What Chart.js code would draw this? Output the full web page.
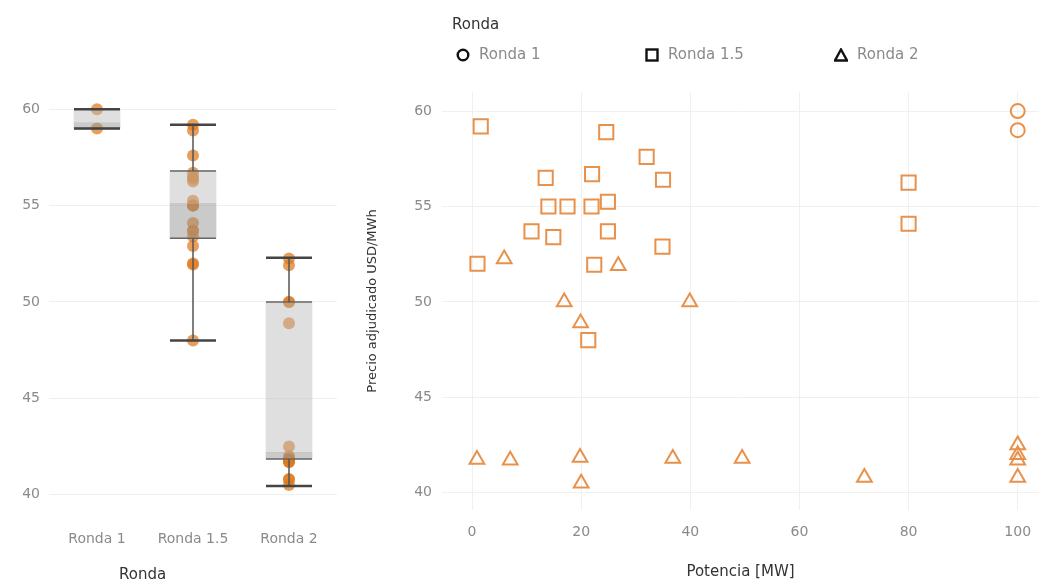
<!DOCTYPE html>
<html>
<head>
<meta charset="utf-8">
<script src="https://cdn.jsdelivr.net/npm/chart.js@4.4.1/dist/chart.umd.min.js"></script>
<style>
    body { margin: 0; background: #fff; font-family: "DejaVu Sans", sans-serif; }
    .wrap { position: relative; width: 1039px; height: 582px; overflow: hidden; }
    #boxChart { position: absolute; left: 0; top: 0; }
    #scatterChart { position: absolute; left: 340px; top: 0; }
    .txt { position: absolute; white-space: nowrap; line-height: 1; }
    .legend-title { left: 452px; top: 17px; font-size: 15px; color: #333; }
    .legend-item { top: 47px; font-size: 15px; color: #8a8a8a; display: flex; align-items: center; }
    .legend-item svg { margin-right: 9px; }
    .box-title { left: 119px; top: 567px; font-size: 15px; color: #333; }
</style>
</head>
<body>
<div class="wrap">
    <canvas id="boxChart" width="340" height="582"></canvas>
    <canvas id="scatterChart" width="699" height="582"></canvas>

    <div class="txt legend-title">Ronda</div>
    <div class="txt legend-item" style="left:456px">
        <svg width="14" height="14"><circle cx="7" cy="7" r="5.3" fill="none" stroke="#111" stroke-width="2.4"/></svg>Ronda 1
    </div>
    <div class="txt legend-item" style="left:645px">
        <svg width="14" height="14"><rect x="1.5" y="1.5" width="11" height="11" fill="none" stroke="#111" stroke-width="2.4"/></svg>Ronda 1.5
    </div>
    <div class="txt legend-item" style="left:834px">
        <svg width="14" height="14"><polygon points="7,1.5 13,12.5 1,12.5" fill="none" stroke="#111" stroke-width="2.4" stroke-linejoin="miter"/></svg>Ronda 2
    </div>
    <div class="txt box-title">Ronda</div>
</div>

<script>
// data
const rondas = ['Ronda 1', 'Ronda 1.5', 'Ronda 2'];

const r1Potencia = [100, 100];
const r1Precio = [60, 59];

const r15Potencia = [1.6, 24.6, 32, 13.5, 22, 35, 14, 17.5, 21.9, 24.9, 10.9, 14.9, 24.9, 34.9, 1, 22.4, 21.3, 80, 80];
const r15Precio = [59.2, 58.9, 57.6, 56.5, 56.7, 56.4, 55.0, 55.0, 55.0, 55.25, 53.7, 53.4, 53.7, 52.9, 52.0, 51.95, 48.0, 56.25, 54.1];

const r2Potencia = [5.9, 26.8, 16.9, 19.9, 39.9, 0.9, 7, 19.8, 20, 36.8, 49.5, 71.9, 100, 100, 100, 100];
const r2Precio = [52.25, 51.9, 50, 48.9, 50, 41.75, 41.7, 41.85, 40.5, 41.8, 41.8, 40.8, 42.5, 42.0, 41.7, 40.8];

const boxMin = [59, 48, 40.45];
const boxQ1 = [59, 53.3, 41.85];
const boxMed = [59.3, 55.1, 42.2];
const boxQ3 = [60, 56.8, 50];
const boxMax = [60, 59.2, 52.3];

const yTicks = [40, 45, 50, 55, 60];
const xTicks = [0, 20, 40, 60, 80, 100];

const tickFont = { family: 'DejaVu Sans', size: 14 };
const tickColor = '#8a8a8a';
const gridColor = '#f0f0f0';
const orange = '#e8914b';

const preciosPorRonda = [r1Precio, r15Precio, r2Precio];

const dots = [];
rondas.forEach((r, i) => {
    preciosPorRonda[i].forEach(p => dots.push({ x: r, y: p }));
});

const whiskers = [];
const caps = [];
const edges = [];
rondas.forEach((r, i) => {
    whiskers.push({ x: r, y: boxMax[i] }, { x: r, y: boxQ3[i] }, { x: r, y: null },
                  { x: r, y: boxQ1[i] }, { x: r, y: boxMin[i] }, { x: r, y: null });
    caps.push({ x: r, y: boxMin[i] }, { x: r, y: boxMax[i] });
    edges.push({ x: r, y: boxQ1[i] }, { x: r, y: boxQ3[i] });
});

const setTicks = values => axis => { axis.ticks = values.map(v => ({ value: v })); };

// fixed axis sizes, no extra padding for overflowing labels
const fixHeight = h => s => { s.height = h; s.paddingLeft = 0; s.paddingRight = 0; };
const fixWidth = w => s => { s.width = w; s.paddingTop = 0; s.paddingBottom = 0; };

new Chart(document.getElementById('boxChart'), {
    type: 'bar',
    data: {
        labels: rondas,
        datasets: [
            {
                data: rondas.map((r, i) => [boxMed[i], boxQ3[i]]),
                backgroundColor: 'rgba(185,185,185,0.45)',
                grouped: false,
                barThickness: 46,
                order: 2
            },
            {
                data: rondas.map((r, i) => [boxQ1[i], boxMed[i]]),
                backgroundColor: 'rgba(150,150,150,0.5)',
                grouped: false,
                barThickness: 46,
                order: 2
            },
            {
                type: 'line',
                data: dots,
                showLine: false,
                pointRadius: 6,
                pointBorderWidth: 0,
                pointBackgroundColor: 'rgba(222,122,30,0.72)',
                order: 3
            },
            {
                type: 'line',
                data: whiskers,
                borderColor: '#555',
                borderWidth: 1.5,
                pointRadius: 0,
                spanGaps: false,
                order: 1
            },
            {
                type: 'line',
                data: edges,
                showLine: false,
                pointStyle: 'line',
                pointRadius: 23,
                pointBorderWidth: 1.5,
                pointBorderColor: '#666',
                order: 1
            },
            {
                type: 'line',
                data: caps,
                showLine: false,
                pointStyle: 'line',
                pointRadius: 23,
                pointBorderWidth: 2.5,
                pointBorderColor: '#444',
                order: 0
            }
        ]
    },
    options: {
        responsive: false,
        animation: false,
        events: [],
        layout: { autoPadding: false, padding: { top: 90, right: 3, left: 0, bottom: 0 } },
        plugins: { legend: { display: false }, tooltip: { enabled: false } },
        scales: {
            x: {
                grid: { display: false },
                border: { display: false },
                ticks: { font: tickFont, color: tickColor, padding: 11 },
                afterFit: fixHeight(70)
            },
            y: {
                min: 39.1,
                max: 61,
                afterBuildTicks: setTicks(yTicks),
                grid: { color: gridColor, drawTicks: false },
                border: { display: false },
                ticks: { font: tickFont, color: tickColor, padding: 9 },
                afterFit: fixWidth(49)
            }
        }
    }
});

const toPoints = (xs, ys) => xs.map((x, i) => ({ x: x, y: ys[i] }));

new Chart(document.getElementById('scatterChart'), {
    type: 'scatter',
    data: {
        datasets: [
            {
                label: 'Ronda 1',
                data: toPoints(r1Potencia, r1Precio),
                pointStyle: 'circle',
                pointRadius: 7,
                borderColor: orange,
                backgroundColor: 'rgba(0,0,0,0)',
                borderWidth: 2
            },
            {
                label: 'Ronda 1.5',
                data: toPoints(r15Potencia, r15Precio),
                pointStyle: 'rect',
                pointRadius: 10,
                borderColor: orange,
                backgroundColor: 'rgba(0,0,0,0)',
                borderWidth: 2
            },
            {
                label: 'Ronda 2',
                data: toPoints(r2Potencia, r2Precio),
                pointStyle: 'triangle',
                pointRadius: 8.5,
                borderColor: orange,
                backgroundColor: 'rgba(0,0,0,0)',
                borderWidth: 2
            }
        ]
    },
    options: {
        responsive: false,
        animation: false,
        events: [],
        layout: { autoPadding: false, padding: { top: 92, right: 0, left: 0, bottom: 0 } },
        plugins: { legend: { display: false }, tooltip: { enabled: false } },
        scales: {
            x: {
                type: 'linear',
                min: -5.5,
                max: 103.9,
                afterBuildTicks: setTicks(xTicks),
                grid: { color: gridColor, drawTicks: false },
                border: { display: false },
                ticks: { font: tickFont, color: tickColor, padding: 14 },
                title: {
                    display: true,
                    text: 'Potencia [MW]',
                    font: { family: 'DejaVu Sans', size: 15 },
                    color: '#333',
                    padding: { top: 0, bottom: 1 }
                },
                afterFit: fixHeight(72)
            },
            y: {
                min: 39.1,
                max: 61,
                afterBuildTicks: setTicks(yTicks),
                grid: { color: gridColor, drawTicks: false },
                border: { display: false },
                ticks: { font: tickFont, color: tickColor, padding: 10 },
                title: {
                    display: true,
                    text: 'Precio adjudicado USD/MWh',
                    font: { family: 'DejaVu Sans', size: 13 },
                    color: '#333',
                    padding: { top: 25, bottom: 0 }
                },
                afterFit: fixWidth(102)
            }
        }
    }
});
</script>
</body>
</html>
